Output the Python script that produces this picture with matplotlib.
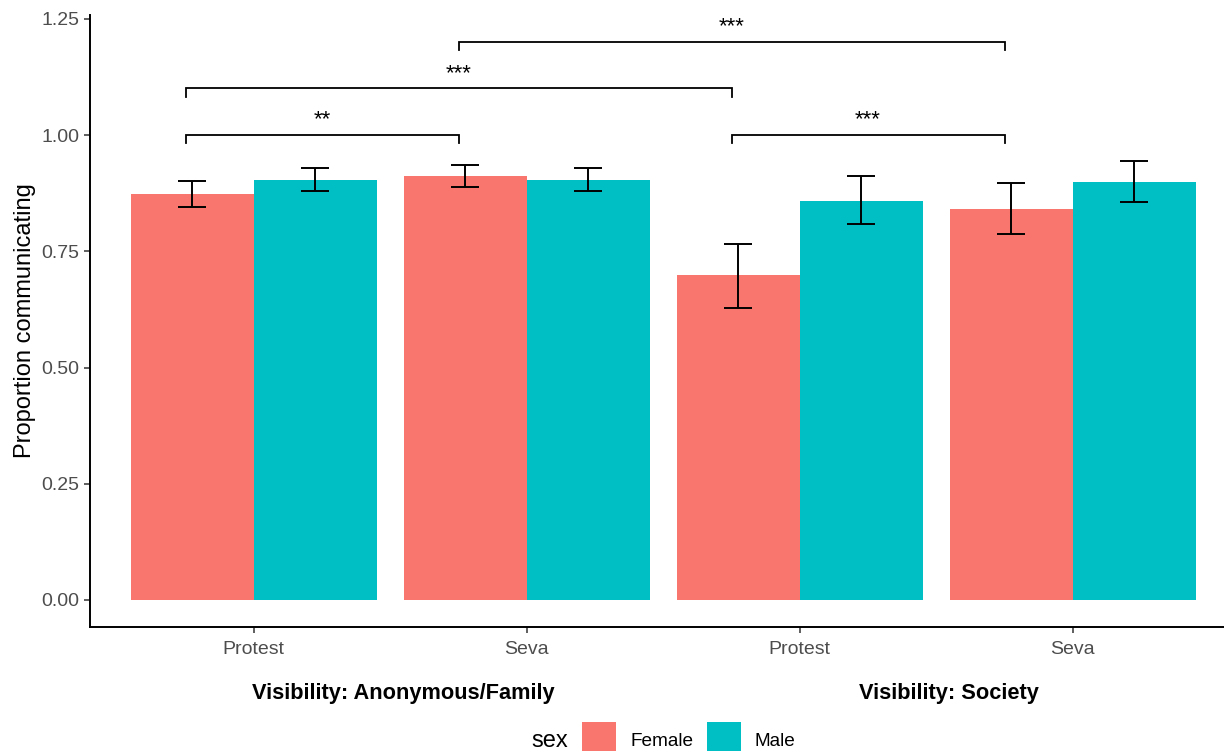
import matplotlib
matplotlib.use("Agg")
import matplotlib.pyplot as plt
import matplotlib.transforms as mtransforms
import numpy as np
from matplotlib.patches import Rectangle

plt.rcParams['font.family'] = ['Liberation Sans', 'DejaVu Sans']

# Data
activity = ["Protest", "Seva", "Protest", "Seva"]
visibility = ["Visibility: Anonymous/Family", "Visibility: Society"]
sexes = ["Female", "Male"]
female_mean = [0.873, 0.912, 0.698, 0.841]
female_low = [0.845, 0.888, 0.629, 0.788]
female_high = [0.901, 0.935, 0.766, 0.896]
male_mean = [0.903, 0.903, 0.859, 0.899]
male_low = [0.880, 0.879, 0.808, 0.856]
male_high = [0.929, 0.928, 0.912, 0.944]
# significance comparisons: (group a, group b, bracket height, label)
comparisons = [(1, 2, 1.00, "**"), (1, 3, 1.10, "***"),
               (2, 4, 1.20, "***"), (3, 4, 1.00, "***")]

colors = {"Female": "#F8766D", "Male": "#00BFC4"}

W, H = 1224, 751
fig = plt.figure(figsize=(W / 100, H / 100), dpi=100)
ax = fig.add_axes([90 / W, (H - 627) / H, (W - 90) / W, (627 - 15) / H])

x = np.arange(1, len(activity) + 1)
bw = 0.45
series = [(female_mean, female_low, female_high, -bw / 2, "Female"),
          (male_mean, male_low, male_high, bw / 2, "Male")]
for mean, lo, hi, off, name in series:
    mean = np.array(mean)
    ax.bar(x + off, mean, width=bw, color=colors[name], linewidth=0, zorder=2)
    yerr = np.vstack([mean - np.array(lo), np.array(hi) - mean])
    ax.errorbar(x + off, mean, yerr=yerr, fmt="none", ecolor="black",
                elinewidth=1.4, capsize=10, capthick=1.4, zorder=3)

tip = 0.018
for a, b, yb, lab in comparisons:
    xa, xb = a - 0.25, b - 0.25
    ax.plot([xa, xa, xb, xb], [yb - tip, yb, yb, yb - tip], color="black",
            lw=1.3, solid_joinstyle="miter", zorder=4)
    ax.annotate(lab, xy=((xa + xb) / 2, yb), xytext=(0, 7),
                textcoords="offset points", ha="center", va="baseline",
                fontsize=16, color="black")

ax.set_xlim(0.4, 0.4 + (W - 90) / 273)
ax.set_ylim(-27 / 465, 585 / 465)
ax.set_xticks(x)
ax.set_xticklabels(activity)
ax.set_yticks([0, 0.25, 0.5, 0.75, 1.0, 1.25])
ax.set_yticklabels(["0.00", "0.25", "0.50", "0.75", "1.00", "1.25"])
ax.tick_params(axis="both", labelsize=14, labelcolor="#4D4D4D", colors="#333333",
               length=4.5, width=1.1)
ax.tick_params(axis="x", pad=5.5)
ax.tick_params(axis="y", pad=3)
for s in ["top", "right"]:
    ax.spines[s].set_visible(False)
for s in ["left", "bottom"]:
    ax.spines[s].set_linewidth(1.4)
ax.set_ylabel("Proportion communicating", fontsize=17, labelpad=4)

# group labels below the activity ticks
lab_tr = mtransforms.blended_transform_factory(ax.transData, fig.transFigure)
for i, lab in enumerate(visibility):
    ax.text(1.546 + 2 * i, (H - 693) / H, lab, transform=lab_tr,
            ha="center", va="center", fontsize=15.7, fontweight="bold")

# legend drawn along the bottom edge
fig.text(550 / W, (H - 741) / H, "sex", fontsize=17, ha="center", va="center")
for name, kx, tx in [("Female", 582, 631), ("Male", 707, 755)]:
    fig.patches.append(Rectangle((kx / W, (H - 756) / H), 34 / W, 34 / H,
                                 transform=fig.transFigure, facecolor=colors[name],
                                 edgecolor="none"))
    fig.text(tx / W, (H - 741) / H, name, fontsize=13.7, ha="left", va="center")

fig.savefig("out.png", dpi=100)
